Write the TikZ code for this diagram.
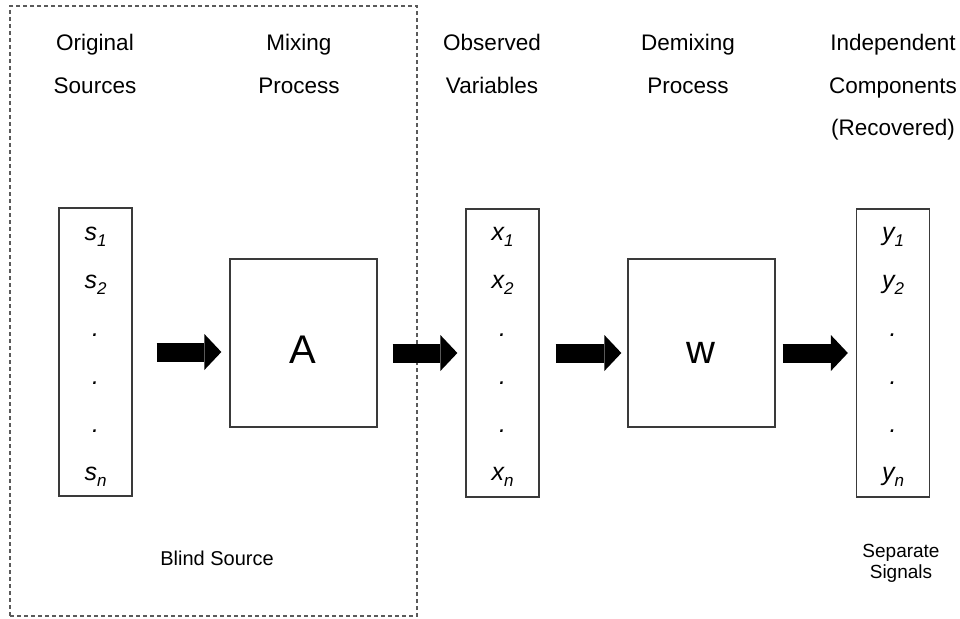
\documentclass[tikz,border=0pt]{standalone}
\usepackage{fontspec}
\setmainfont{Liberation Sans}
\usetikzlibrary{arrows.meta}
\definecolor{boxc}{HTML}{3A3A3A}
\definecolor{dashc}{HTML}{5A5A5A}
\newcommand{\vlab}[2]{{\fontsize{25}{25}\selectfont\itshape #1}{\fontsize{17}{17}\selectfont\itshape\raisebox{-6pt}{#2}}}
\newcommand{\vdot}{{\fontsize{25}{25}\selectfont\itshape .}}
\begin{document}
\begin{tikzpicture}[x=1pt,y=-1pt,
  hdr/.style={font=\fontsize{22.5}{22.5}\selectfont, anchor=base, inner sep=0pt},
  small/.style={font=\fontsize{20}{20}\selectfont, anchor=base, inner sep=0pt},
  smaller/.style={font=\fontsize{19}{19}\selectfont, anchor=base, inner sep=0pt},
  lab/.style={anchor=base, inner sep=0pt},
  big/.style={font=\fontsize{40}{40}\selectfont, anchor=base, inner sep=0pt},
  vbox/.style={draw=boxc, line width=1.3pt, minimum width=73pt, minimum height=288pt, inner sep=0pt},
  mbox/.style={draw=boxc, line width=1.3pt, minimum width=147pt, minimum height=168pt, inner sep=0pt},
  grp/.style={draw=dashc, line width=1.2pt, dash pattern=on 4pt off 3pt, minimum width=407pt, minimum height=610pt, inner sep=0pt},
  blk/.style={draw=black, line width=19pt, -{Triangle[length=17pt,width=36pt,line width=0pt]}}
]
\useasboundingbox (0,0) rectangle (960,618);

% group box
\node[grp] (blind) at (213.5,311) {};

% headers
\node[hdr] (h1a) at (95,51) {Original};
\node[hdr] (h1b) at (95,93) {Sources};
\node[hdr] (h2a) at (299,51) {Mixing};
\node[hdr] (h2b) at (299,93) {Process};
\node[hdr] (h3a) at (492,51) {Observed};
\node[hdr] (h3b) at (492,93) {Variables};
\node[hdr] (h4a) at (688,51) {Demixing};
\node[hdr] (h4b) at (688,93) {Process};
\node[hdr] (h5a) at (893,51) {Independent};
\node[hdr] (h5b) at (893,93) {Components};
\node[hdr] (h5c) at (893,135) {(Recovered)};

% boxes
\node[vbox] (s) at (95.5,352) {};
\node[mbox] (A) at (303.5,343) {};
\node[vbox] (x) at (502.5,353) {};
\node[mbox] (w) at (701.5,343) {};
\node[vbox] (y) at (893,353) {};

% box contents
\node[big] (Alab) at (303,363) {A};
\node[big] (wlab) at (701,363) {w};

\node[lab] (s1) at (95.5,240) {\vlab{s}{1}};
\node[lab] (s2) at (95.5,288) {\vlab{s}{2}};
\node[lab] (s3) at (95.5,336) {\vdot};
\node[lab] (s4) at (95.5,384) {\vdot};
\node[lab] (s5) at (95.5,432) {\vdot};
\node[lab] (sn) at (95.5,480) {\vlab{s}{n}};

\node[lab] (x1) at (502.5,240) {\vlab{x}{1}};
\node[lab] (x2) at (502.5,288) {\vlab{x}{2}};
\node[lab] (x3) at (502.5,336) {\vdot};
\node[lab] (x4) at (502.5,384) {\vdot};
\node[lab] (x5) at (502.5,432) {\vdot};
\node[lab] (xn) at (502.5,480) {\vlab{x}{n}};

\node[lab] (y1) at (893,240) {\vlab{y}{1}};
\node[lab] (y2) at (893,288) {\vlab{y}{2}};
\node[lab] (y3) at (893,336) {\vdot};
\node[lab] (y4) at (893,384) {\vdot};
\node[lab] (y5) at (893,432) {\vdot};
\node[lab] (yn) at (893,480) {\vlab{y}{n}};

% bottom labels
\node[small] (bs) at (217,565) {Blind Source};
\node[smaller] (sep1) at (901,557) {Separate};
\node[smaller] (sep2) at (901,578) {Signals};

% block arrows
\draw[blk, shorten <=24pt, shorten >=8pt] (s.east) -- (A.west |- s.east);
\draw[blk, shorten <=15pt, shorten >=8pt] (A.east |- x.west) -- (x.west);
\draw[blk, shorten <=16pt, shorten >=6pt] (x.east) -- (w.west |- x.east);
\draw[blk, shorten <=7pt, shorten >=8pt] (w.east |- y.west) -- (y.west);
\end{tikzpicture}
\end{document}
